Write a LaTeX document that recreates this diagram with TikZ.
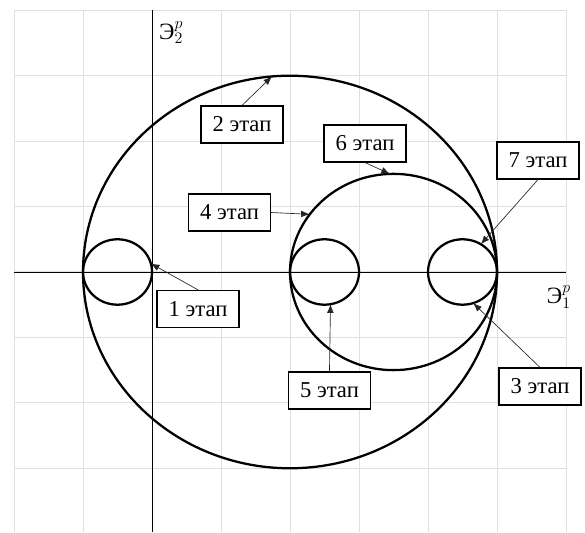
\documentclass[tikz,border=0pt]{standalone}
\usepackage{fontspec}
\setmainfont{Liberation Serif}
\usetikzlibrary{arrows.meta}
\usetikzlibrary{calc}

\tikzset{
	stage/.style={draw, fill=white, line width=1.1pt, minimum width=61.5pt, minimum height=27.5pt, inner sep=0pt, font=\fontsize{17}{19}\selectfont},
	pointer/.style={-{Latex[length=6.5pt,width=5pt]}, line width=0.5pt, black!85},
	orbit/.style={line width=1.7pt},
	axislabel/.style={anchor=west, inner sep=0pt, font=\fontsize{17.5}{19}\selectfont}
}

\begin{document}
\begin{tikzpicture}[x=51.75pt, y=49.07pt]
				\useasboundingbox (-2.203,-3.974) rectangle (6.275,4.157);
				%
				\foreach \i in {-2,...,6}
					\draw [black!12, line width=0.75pt] (\i,4) -- (\i,-3.974);
				\foreach \j in {-3,...,4}
					\draw [black!12, line width=0.75pt] (-2,\j) -- (6,\j);
				%
				\draw [line width=0.6pt] (0,4) -- (0,-3.974);
				\draw [line width=0.6pt] (-2,0) -- (6,0);
				\node [axislabel] (ey) at (0.1,3.66) {Э$_2^p$};
				\node [axislabel] (ex) at (5.72,-0.38) {Э$_1^p$};
				%
				\coordinate (big) at (2,0);
				\coordinate (mid) at (3.5,0);
				\coordinate (sl) at (-0.5,0);
				\coordinate (sm) at (2.5,0);
				\coordinate (sr) at (4.5,0);
				\draw [orbit] (big) circle [radius=3];
				\draw [orbit] (mid) circle [radius=1.5];
				\draw [orbit] (sl) circle [radius=0.5];
				\draw [orbit] (sm) circle [radius=0.5];
				\draw [orbit] (sr) circle [radius=0.5];
				%
				\coordinate (t1) at ($(sl)+(15:0.5)$);
				\coordinate (t2) at ($(big)+(95:3)$);
				\coordinate (t3) at ($(sr)+(-72:0.5)$);
				\coordinate (t4) at ($(mid)+(144:1.5)$);
				\coordinate (t5) at ($(sm)+(-80:0.5)$);
				\coordinate (t6) at ($(mid)+(92:1.5)$);
				\coordinate (t7) at ($(sr)+(58:0.5)$);
				%
				\node [stage] (b1) at (0.667,-0.565) {1 этап};
				\node [stage] (b2) at (1.304,2.254) {2 этап};
				\node [stage] (b3) at (5.623,-1.750) {3 этап};
				\node [stage] (b4) at (1.123,0.909) {4 этап};
				\node [stage] (b5) at (2.572,-1.811) {5 этап};
				\node [stage] (b6) at (3.087,1.964) {6 этап};
				\node [stage] (b7) at (5.594,1.704) {7 этап};
				%
				\draw [pointer] (b1.north) -- (t1);
				\draw [pointer] (b2.north) -- (t2);
				\draw [pointer] (b3.north) -- (t3);
				\draw [pointer] (b4.east) -- (t4);
				\draw [pointer] (b5.north) -- (t5);
				\draw [pointer] (b6.south) -- (t6);
				\draw [pointer] (b7.south) -- (t7);
		
			\end{tikzpicture}
\end{document}
